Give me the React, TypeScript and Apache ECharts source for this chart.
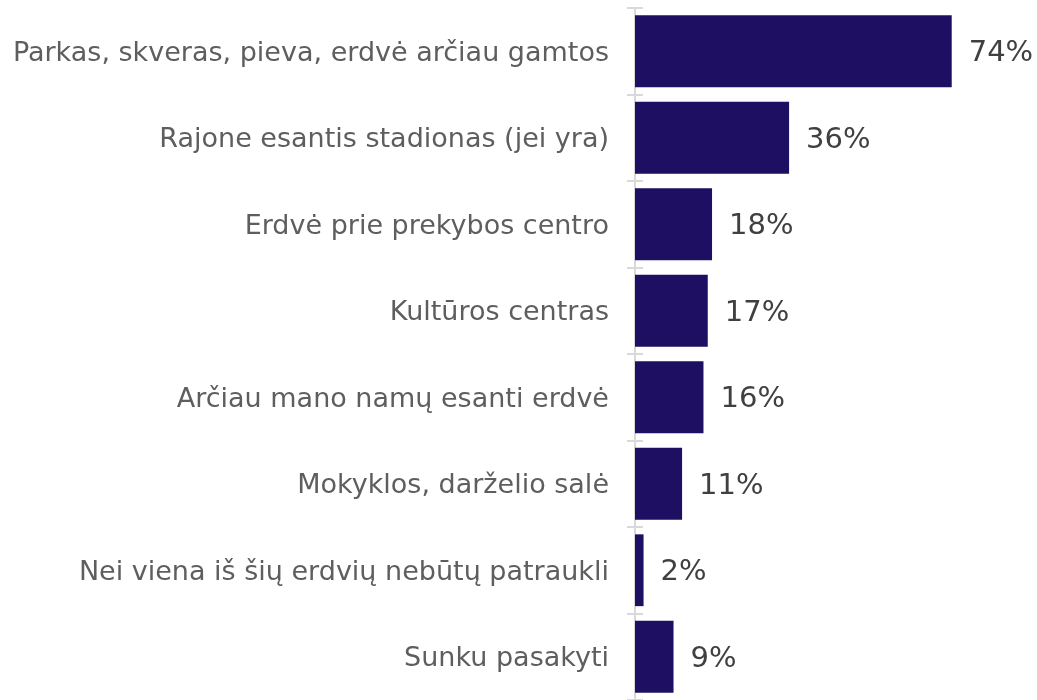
import React, { useEffect, useRef } from "react";
import * as echarts from "echarts";

const categories = [
  "Parkas, skveras, pieva, erdvė arčiau gamtos",
  "Rajone esantis stadionas (jei yra)",
  "Erdvė prie prekybos centro",
  "Kultūros centras",
  "Arčiau mano namų esanti erdvė",
  "Mokyklos, darželio salė",
  "Nei viena iš šių erdvių nebūtų patraukli",
  "Sunku pasakyti",
];
const values = [74, 36, 18, 17, 16, 11, 2, 9];

export default function App() {
  const ref = useRef<HTMLDivElement>(null);
  useEffect(() => {
    if (!ref.current) return;
    const chart = echarts.init(ref.current, undefined, { renderer: "svg" });
    const font = "DejaVu Sans";
    const baseY = {
      type: "category" as const,
      data: categories,
      inverse: true,
      position: "left" as const,
      axisLine: { show: false },
      axisLabel: { show: false },
      splitLine: { show: false },
    };
    chart.setOption({
      animation: false,
      grid: { left: 635, right: 59.6, top: 8, bottom: -5, containLabel: false },
      xAxis: {
        type: "value",
        min: 0,
        max: 80,
        show: false,
      },
      yAxis: [
        {
          type: "category",
          data: categories,
          inverse: true,
          axisLine: { show: true, lineStyle: { color: "#d9d9d9", width: 2 } },
          axisTick: { show: true, length: 8, lineStyle: { color: "#d9d9d9", width: 2 } },
          axisLabel: {
            show: true,
            margin: 26,
            fontFamily: font,
            fontSize: 27,
            color: "#5e5e5e",
          },
          splitLine: { show: false },
        },
        {
          ...baseY,
          axisTick: { show: true, inside: true, length: 8, lineStyle: { color: "#d9d9d9", width: 2 } },
        },
        {
          ...baseY,
          axisTick: { show: true, inside: true, alignWithLabel: true, length: 7, lineStyle: { color: "#d9d9d9", width: 2 } },
        },
      ],
      series: [
        {
          type: "bar",
          data: values,
          yAxisIndex: 0,
          barCategoryGap: "17%",
          itemStyle: { color: "#1e0f63" },
          label: {
            show: true,
            position: "right",
            distance: 17,
            formatter: "{c}%",
            fontFamily: font,
            fontSize: 29,
            color: "#404040",
          },
        },
      ],
    });
    return () => chart.dispose();
  }, []);
  return (
    <div
      ref={ref}
      style={{ position: "fixed", left: 0, top: 0, width: 1037, height: 700 }}
    />
  );
}
